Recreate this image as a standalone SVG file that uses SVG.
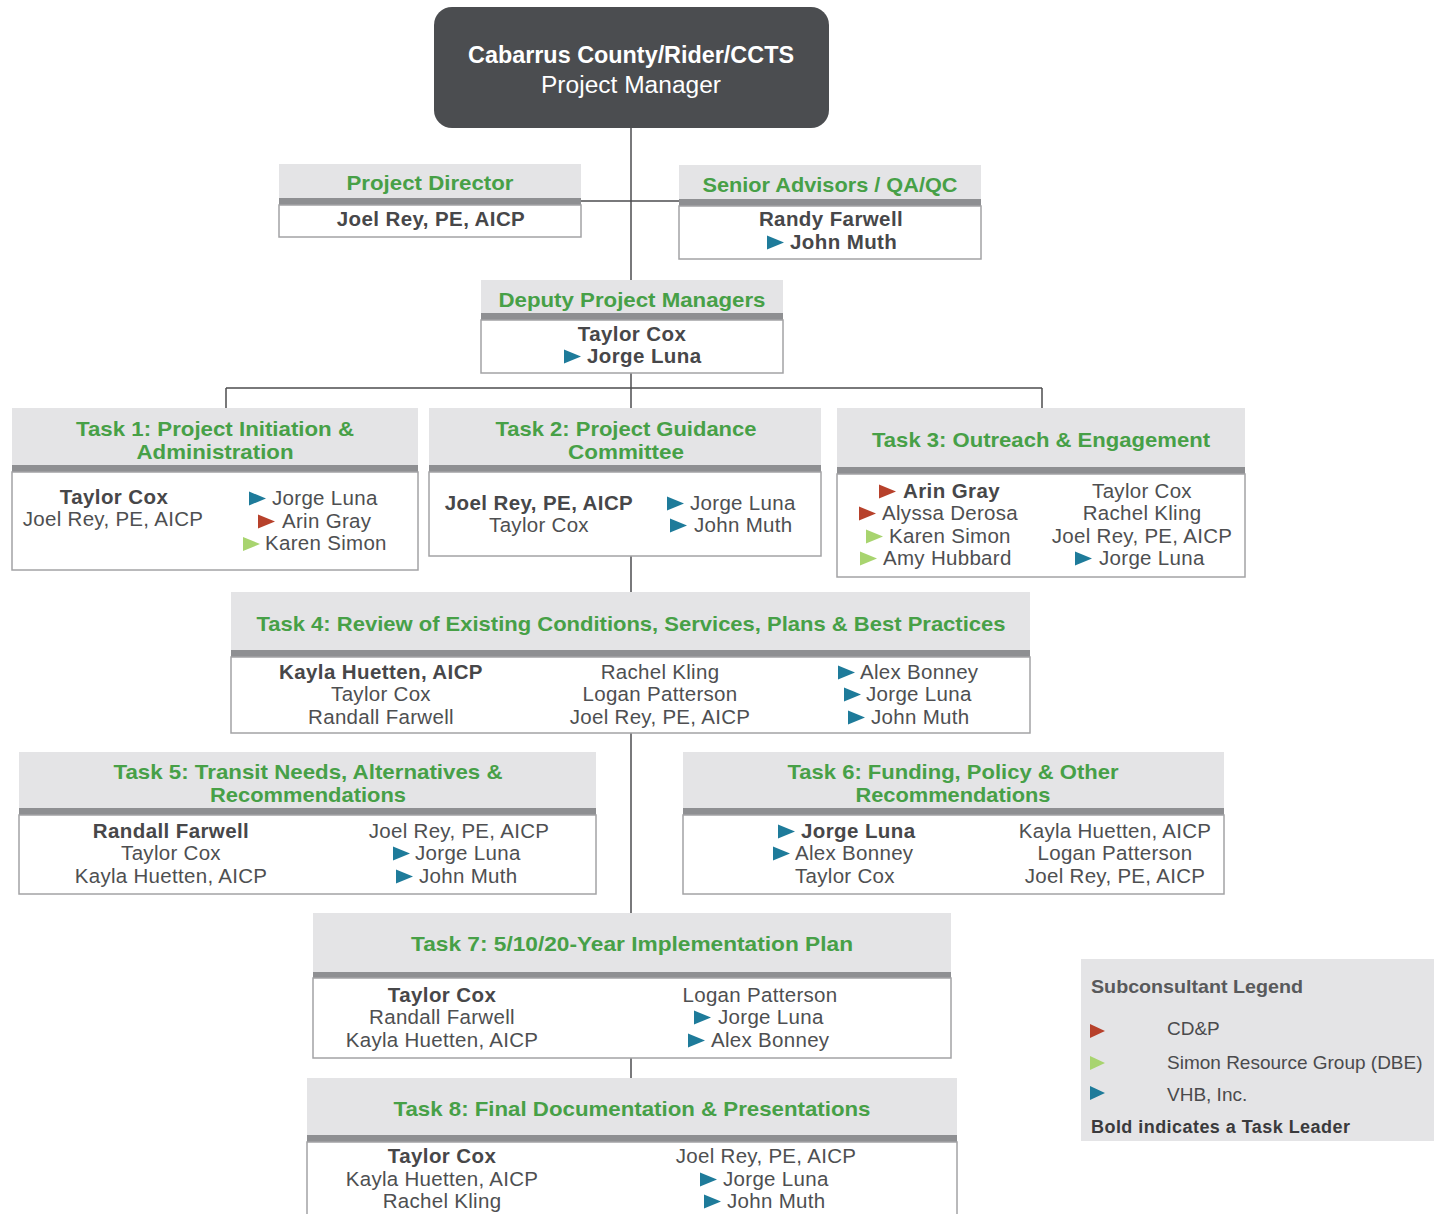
<svg xmlns="http://www.w3.org/2000/svg" xmlns:xlink="http://www.w3.org/1999/xlink" width="1434" height="1214" viewBox="0 0 1434 1214">
<style>
.hdr{fill:#e4e4e6}
.bar{fill:#8e8f92}
.body{fill:#fff;stroke:#a3a3a5;stroke-width:1.5}
.ttl{font-family:"Liberation Sans",Arial,sans-serif;font-weight:bold;font-size:21px;fill:#47a047;text-anchor:middle}
.t{font-family:"Liberation Sans",Arial,sans-serif;font-size:20.5px;letter-spacing:0.3px;fill:#4e4f51}
.b{font-family:"Liberation Sans",Arial,sans-serif;font-size:20.5px;letter-spacing:0.4px;font-weight:bold;fill:#474749}
.m{text-anchor:middle}
.conn{stroke:#4d4d4f;stroke-width:1.5;fill:none}
.blue{fill:#1e7b9a}
.red{fill:#b7412b}
.green{fill:#a8d46f}
.lg{font-family:"Liberation Sans",Arial,sans-serif;font-size:19px;fill:#4a4a4c}
</style>
<defs>
<path id="tri" d="M0,-7 L17,0 L0,7 Z"/>
</defs>
<rect width="1434" height="1214" fill="#fff"/>
<g id="connectors">
<path class="conn" d="M631,128 V1078"/>
<path class="conn" d="M581,201 H679"/>
<path class="conn" d="M226,388 H1042 M226,388 V408 M1042,388 V408"/>
</g>
<g id="pm">
<rect x="434" y="7" width="395" height="121" rx="18" fill="#4b4d50"/>
<text x="631" y="63" font-family="Liberation Sans, Arial, sans-serif" font-weight="bold" font-size="23" fill="#fff" text-anchor="middle" textLength="326" lengthAdjust="spacingAndGlyphs">Cabarrus County/Rider/CCTS</text>
<text x="631" y="93" font-family="Liberation Sans, Arial, sans-serif" font-size="23" fill="#fff" text-anchor="middle" textLength="180" lengthAdjust="spacingAndGlyphs">Project Manager</text>
</g>
<g id="director">
<rect class="hdr" x="279" y="164" width="302" height="34"/>
<rect class="bar" x="279" y="198" width="302" height="7"/>
<rect class="body" x="279" y="205" width="302" height="32"/>
<text class="ttl" x="430" y="190" textLength="167" lengthAdjust="spacingAndGlyphs">Project Director</text>
<text class="b m" x="431" y="226">Joel Rey, PE, AICP</text>
</g>
<g id="senior">
<rect class="hdr" x="679" y="165" width="302" height="34"/>
<rect class="bar" x="679" y="199" width="302" height="7"/>
<rect class="body" x="679" y="206" width="302" height="53"/>
<text class="ttl" x="830" y="192" textLength="255" lengthAdjust="spacingAndGlyphs">Senior Advisors / QA/QC</text>
<text class="b m" x="831" y="226">Randy Farwell</text>
<use xlink:href="#tri" class="blue" x="767" y="242.5"/>
<text class="b" x="790" y="249">John Muth</text>
</g>
<g id="deputy">
<rect class="hdr" x="481" y="280" width="302" height="33"/>
<rect class="bar" x="481" y="313" width="302" height="7"/>
<rect class="body" x="481" y="320" width="302" height="53"/>
<text class="ttl" x="632" y="307" textLength="267" lengthAdjust="spacingAndGlyphs">Deputy Project Managers</text>
<text class="b m" x="632" y="341">Taylor Cox</text>
<use xlink:href="#tri" class="blue" x="564" y="356.5"/>
<text class="b" x="587" y="363">Jorge Luna</text>
</g>
<g id="task1">
<rect class="hdr" x="12" y="408" width="406" height="57"/>
<rect class="bar" x="12" y="465" width="406" height="7"/>
<rect class="body" x="12" y="472" width="406" height="98"/>
<text class="ttl" x="215" y="436" textLength="278" lengthAdjust="spacingAndGlyphs">Task 1: Project Initiation &amp;</text>
<text class="ttl" x="215" y="459" textLength="157" lengthAdjust="spacingAndGlyphs">Administration</text>
<text class="b m" x="114" y="504">Taylor Cox</text>
<text class="t m" x="113" y="526">Joel Rey, PE, AICP</text>
<use xlink:href="#tri" class="blue" x="249" y="498.5"/>
<text class="t" x="272" y="505">Jorge Luna</text>
<use xlink:href="#tri" class="red" x="258" y="521.5"/>
<text class="t" x="282" y="528">Arin Gray</text>
<use xlink:href="#tri" class="green" x="243" y="544"/>
<text class="t" x="265" y="550">Karen Simon</text>
</g>
<g id="task2">
<rect class="hdr" x="429" y="408" width="392" height="57"/>
<rect class="bar" x="429" y="465" width="392" height="7"/>
<rect class="body" x="429" y="472" width="392" height="84"/>
<text class="ttl" x="626" y="436" textLength="261" lengthAdjust="spacingAndGlyphs">Task 2: Project Guidance</text>
<text class="ttl" x="626" y="459" textLength="116" lengthAdjust="spacingAndGlyphs">Committee</text>
<text class="b m" x="539" y="510">Joel Rey, PE, AICP</text>
<text class="t m" x="539" y="532">Taylor Cox</text>
<use xlink:href="#tri" class="blue" x="667" y="503.5"/>
<text class="t" x="690" y="510">Jorge Luna</text>
<use xlink:href="#tri" class="blue" x="670" y="525.5"/>
<text class="t" x="694" y="532">John Muth</text>
</g>
<g id="task3">
<rect class="hdr" x="837" y="408" width="408" height="59"/>
<rect class="bar" x="837" y="467" width="408" height="7"/>
<rect class="body" x="837" y="474" width="408" height="103"/>
<text class="ttl" x="1041" y="447" textLength="338" lengthAdjust="spacingAndGlyphs">Task 3: Outreach &amp; Engagement</text>
<use xlink:href="#tri" class="red" x="879" y="491.5"/>
<text class="b" x="903" y="498">Arin Gray</text>
<use xlink:href="#tri" class="red" x="859" y="513.5"/>
<text class="t" x="882" y="520">Alyssa Derosa</text>
<use xlink:href="#tri" class="green" x="866" y="536.5"/>
<text class="t" x="889" y="543">Karen Simon</text>
<use xlink:href="#tri" class="green" x="860" y="558.5"/>
<text class="t" x="883" y="565">Amy Hubbard</text>
<text class="t m" x="1142" y="498">Taylor Cox</text>
<text class="t m" x="1142" y="520">Rachel Kling</text>
<text class="t m" x="1142" y="543">Joel Rey, PE, AICP</text>
<use xlink:href="#tri" class="blue" x="1075" y="558.5"/>
<text class="t" x="1099" y="565">Jorge Luna</text>
</g>
<g id="task4">
<rect class="hdr" x="231" y="592" width="799" height="58"/>
<rect class="bar" x="231" y="650" width="799" height="7"/>
<rect class="body" x="231" y="657" width="799" height="76"/>
<text class="ttl" x="631" y="631" textLength="749" lengthAdjust="spacingAndGlyphs">Task 4: Review of Existing Conditions, Services, Plans &amp; Best Practices</text>
<text class="b m" x="381" y="679">Kayla Huetten, AICP</text>
<text class="t m" x="381" y="701">Taylor Cox</text>
<text class="t m" x="381" y="724">Randall Farwell</text>
<text class="t m" x="660" y="679">Rachel Kling</text>
<text class="t m" x="660" y="701">Logan Patterson</text>
<text class="t m" x="660" y="724">Joel Rey, PE, AICP</text>
<use xlink:href="#tri" class="blue" x="838" y="672.5"/>
<text class="t" x="860" y="679">Alex Bonney</text>
<use xlink:href="#tri" class="blue" x="844" y="694.5"/>
<text class="t" x="866" y="701">Jorge Luna</text>
<use xlink:href="#tri" class="blue" x="848" y="717.5"/>
<text class="t" x="871" y="724">John Muth</text>
</g>
<g id="task5">
<rect class="hdr" x="19" y="752" width="577" height="56"/>
<rect class="bar" x="19" y="808" width="577" height="7"/>
<rect class="body" x="19" y="815" width="577" height="79"/>
<text class="ttl" x="308" y="779" textLength="389" lengthAdjust="spacingAndGlyphs">Task 5: Transit Needs, Alternatives &amp;</text>
<text class="ttl" x="308" y="802" textLength="196" lengthAdjust="spacingAndGlyphs">Recommendations</text>
<text class="b m" x="171" y="838">Randall Farwell</text>
<text class="t m" x="171" y="860">Taylor Cox</text>
<text class="t m" x="171" y="883">Kayla Huetten, AICP</text>
<text class="t m" x="459" y="838">Joel Rey, PE, AICP</text>
<use xlink:href="#tri" class="blue" x="393" y="853.5"/>
<text class="t" x="415" y="860">Jorge Luna</text>
<use xlink:href="#tri" class="blue" x="396" y="876.5"/>
<text class="t" x="419" y="883">John Muth</text>
</g>
<g id="task6">
<rect class="hdr" x="683" y="752" width="541" height="56"/>
<rect class="bar" x="683" y="808" width="541" height="7"/>
<rect class="body" x="683" y="815" width="541" height="79"/>
<text class="ttl" x="953" y="779" textLength="331" lengthAdjust="spacingAndGlyphs">Task 6: Funding, Policy &amp; Other</text>
<text class="ttl" x="953" y="802" textLength="195" lengthAdjust="spacingAndGlyphs">Recommendations</text>
<use xlink:href="#tri" class="blue" x="778" y="831.5"/>
<text class="b" x="801" y="838">Jorge Luna</text>
<use xlink:href="#tri" class="blue" x="773" y="853.5"/>
<text class="t" x="795" y="860">Alex Bonney</text>
<text class="t" x="795" y="883">Taylor Cox</text>
<text class="t m" x="1115" y="838">Kayla Huetten, AICP</text>
<text class="t m" x="1115" y="860">Logan Patterson</text>
<text class="t m" x="1115" y="883">Joel Rey, PE, AICP</text>
</g>
<g id="task7">
<rect class="hdr" x="313" y="913" width="638" height="59"/>
<rect class="bar" x="313" y="972" width="638" height="6"/>
<rect class="body" x="313" y="978" width="638" height="80"/>
<text class="ttl" x="632" y="951" textLength="442" lengthAdjust="spacingAndGlyphs">Task 7: 5/10/20-Year Implementation Plan</text>
<text class="b m" x="442" y="1002">Taylor Cox</text>
<text class="t m" x="442" y="1024">Randall Farwell</text>
<text class="t m" x="442" y="1047">Kayla Huetten, AICP</text>
<text class="t m" x="760" y="1002">Logan Patterson</text>
<use xlink:href="#tri" class="blue" x="694" y="1017.5"/>
<text class="t" x="718" y="1024">Jorge Luna</text>
<use xlink:href="#tri" class="blue" x="688" y="1040.5"/>
<text class="t" x="711" y="1047">Alex Bonney</text>
</g>
<g id="task8">
<rect class="hdr" x="307" y="1078" width="650" height="57"/>
<rect class="bar" x="307" y="1135" width="650" height="7"/>
<rect class="body" x="307" y="1142" width="650" height="90"/>
<text class="ttl" x="632" y="1116" textLength="477" lengthAdjust="spacingAndGlyphs">Task 8: Final Documentation &amp; Presentations</text>
<text class="b m" x="442" y="1163">Taylor Cox</text>
<text class="t m" x="442" y="1186">Kayla Huetten, AICP</text>
<text class="t m" x="442" y="1208">Rachel Kling</text>
<text class="t m" x="766" y="1163">Joel Rey, PE, AICP</text>
<use xlink:href="#tri" class="blue" x="700" y="1179.5"/>
<text class="t" x="723" y="1186">Jorge Luna</text>
<use xlink:href="#tri" class="blue" x="704" y="1201.5"/>
<text class="t" x="727" y="1208">John Muth</text>
</g>
<g id="legend">
<rect x="1081" y="959" width="353" height="182" fill="#e4e4e6"/>
<text x="1091" y="993" font-family="Liberation Sans, Arial, sans-serif" font-weight="bold" font-size="19" fill="#58595b" textLength="212" lengthAdjust="spacingAndGlyphs">Subconsultant Legend</text>
<path class="red" d="M1090,1024 L1105,1031 L1090,1038 Z"/>
<text class="lg" x="1167" y="1035">CD&amp;P</text>
<path class="green" d="M1090,1056 L1105,1063 L1090,1070 Z"/>
<text class="lg" x="1167" y="1069">Simon Resource Group (DBE)</text>
<path class="blue" d="M1090,1086 L1105,1093 L1090,1100 Z"/>
<text class="lg" x="1167" y="1101">VHB, Inc.</text>
<text x="1091" y="1133" font-family="Liberation Sans, Arial, sans-serif" font-weight="bold" font-size="18" letter-spacing="0.45" fill="#3a3a3c">Bold indicates a Task Leader</text>
</g>
</svg>
